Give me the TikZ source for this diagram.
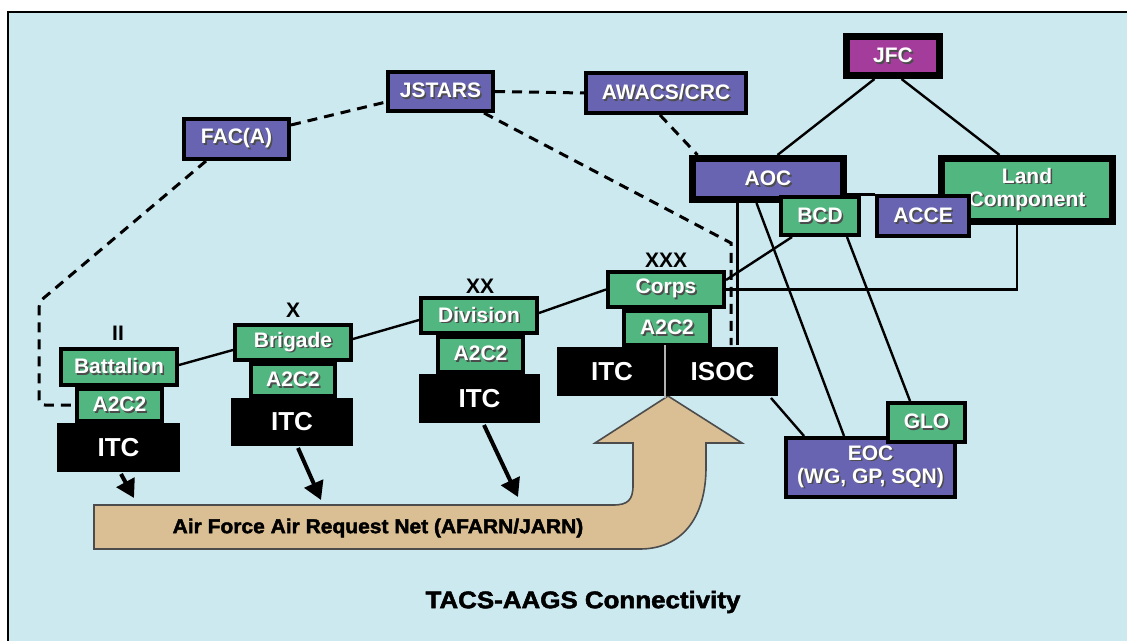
\documentclass[tikz,border=0pt]{standalone}
\usepackage{fontspec}
\setmainfont{Liberation Sans}
\newfontfamily\heavysans[BoldFeatures={FakeBold=2}]{Liberation Sans}
\usetikzlibrary{arrows.meta}
\definecolor{skyback}{RGB}{204,233,240}
\definecolor{cmdpurple}{RGB}{104,100,178}
\definecolor{cmdgreen}{RGB}{82,182,128}
\definecolor{jfcpink}{RGB}{163,60,155}
\definecolor{nettan}{RGB}{218,190,148}
\pgfdeclarelayer{bg}
\pgfdeclarelayer{links}
\pgfsetlayers{bg,links,main}
\newcommand{\shtxt}[1]{\makebox[0pt][l]{\kern0.8pt\raisebox{-0.8pt}{\textcolor{black!70}{#1}}}#1}

\begin{document}
\begin{tikzpicture}[x=0.5pt, y=-0.5pt,
  box/.style={shape=rectangle, draw=black, line width=2pt, inner sep=0pt, text=white, align=center, font=\fontsize{10.5}{11.5}\selectfont\bfseries},
  pbox/.style={box, fill=cmdpurple},
  gbox/.style={box, fill=cmdgreen},
  itcbox/.style={box, fill=black, draw=none, font=\fontsize{13}{15}\selectfont\bfseries},
  echelon/.style={font=\fontsize{10.5}{12}\selectfont\bfseries},
  link/.style={line width=1.2pt, draw=black},
  dlink/.style={line width=1.5pt, draw=black, dash pattern=on 5pt off 3.5pt},
  feed/.style={line width=2pt, -{Triangle[length=9pt, width=10pt]}}]
\useasboundingbox (0,0) rectangle (1127,641);
\begin{pgfonlayer}{bg}
\fill[skyback] (8,12) rectangle (1127,641);
\draw[line width=1.2pt] (8,641) -- (8,12) -- (1127,12);
\end{pgfonlayer}

% air side
\node[box, fill=jfcpink, line width=3.5pt, minimum width=46.5pt, minimum height=19.5pt] (jfc) at (893,56) {\shtxt{JFC}};
\node[pbox, minimum width=80pt, minimum height=20pt] (awacs) at (666,93) {\shtxt{AWACS/CRC}};
\node[pbox, minimum width=52.5pt, minimum height=19.5pt] (jstars) at (440.5,91.5) {\shtxt{JSTARS}};
\node[pbox, minimum width=52.5pt, minimum height=20pt] (faca) at (236.5,139) {\shtxt{FAC(A)}};
\node[pbox, line width=3.5pt, minimum width=75.5pt, minimum height=20.5pt] (aoc) at (768,179) {\shtxt{AOC}};
\node[gbox, line width=3.5pt, minimum width=85.5pt, minimum height=31.5pt] (land) at (1027,190) {\shtxt{Land}\\\shtxt{Component}};
\node[gbox, minimum width=39pt, minimum height=19pt] (bcd) at (820,216) {\shtxt{BCD}};
\node[pbox, minimum width=46pt, minimum height=20pt] (acce) at (923,216.5) {\shtxt{ACCE}};

% corps
\node[echelon] (xxx) at (666,260) {XXX};
\node[gbox, minimum width=58pt, minimum height=17.5pt] (corps) at (666,289.5) {\shtxt{Corps}};
\node[gbox, minimum width=43pt, minimum height=17pt] (a2c2corps) at (667,328) {\shtxt{A2C2}};
\node[itcbox, minimum width=55pt, minimum height=24.5pt] (itccorps) at (612,371.5) {ITC};
\node[itcbox, minimum width=55.5pt, minimum height=24.5pt] (isoc) at (722.5,371.5) {ISOC};
\draw[gray!60, line width=0.6pt] (isoc.north west) -- (isoc.south west);
\node[pbox, minimum width=84.5pt, minimum height=29.5pt] (eoc) at (870.5,467.5) {\shtxt{EOC}\\\shtxt{(WG, GP, SQN)}};
\node[gbox, minimum width=38.5pt, minimum height=19.5pt] (glo) at (926.5,422.5) {\shtxt{GLO}};

% battalion, brigade, division
\node[echelon] (ii) at (118,333) {II};
\node[gbox, minimum width=58pt, minimum height=18pt] (bn) at (119,367) {\shtxt{Battalion}};
\node[gbox, minimum width=42.5pt, minimum height=16pt] (a2c2bn) at (119.5,405) {\shtxt{A2C2}};
\node[itcbox, minimum width=61.5pt, minimum height=24.5pt] (itcbn) at (118.5,447.5) {ITC};
\node[echelon] (x) at (293,310) {X};
\node[gbox, minimum width=58pt, minimum height=17.5pt] (bde) at (293,342.5) {\shtxt{Brigade}};
\node[gbox, minimum width=42pt, minimum height=16pt] (a2c2bde) at (293,380) {\shtxt{A2C2}};
\node[itcbox, minimum width=61pt, minimum height=24pt] (itcbde) at (292,422) {ITC};
\node[echelon] (xx) at (480,286) {XX};
\node[gbox, minimum width=58pt, minimum height=17.5pt] (div) at (479,315.5) {\shtxt{Division}};
\node[gbox, minimum width=42.5pt, minimum height=17.5pt] (a2c2div) at (480.5,354.5) {\shtxt{A2C2}};
\node[itcbox, minimum width=60.5pt, minimum height=24.5pt] (itcdiv) at (479.5,398.5) {ITC};

\coordinate (bendjs) at (731,243);
\coordinate (bendfac) at (39,302);
\coordinate (tipbn) at (134,498);
\coordinate (tipbde) at (321,500);
\coordinate (tipdiv) at (518,497);

\begin{pgfonlayer}{links}
% request net
\draw[fill=nettan, draw=black!70, line width=0.8pt] (94,505) -- (613,505) .. controls (628,505) and (633,500) .. (633,485) -- (633,443) -- (595,443) -- (668,396) -- (742,443) -- (706,443) -- (706,467) .. controls (706,520) and (680,549) .. (640,549) -- (94,549) -- cycle;
\path[link] ([yshift=1pt]bn.east) edge ([yshift=-3.75pt]bde.west);
\path[link] ([yshift=1.75pt]bde.east) edge ([yshift=-2.25pt]div.west);
\path[link] ([yshift=1.25pt]div.east) edge (corps.west);
\path[link] ([yshift=4.75pt]corps.east) edge ([xshift=6.5pt]bcd.south west);
\draw[link] (corps.east) -| ([xshift=-5pt]land.south);
\path[link] ([xshift=15.75pt]jfc.south west) edge ([xshift=44.25pt]aoc.north west);
\path[link] ([xshift=29.25pt]jfc.south west) edge ([xshift=30.75pt]land.north west);
\draw[link] (acce.north west -| aoc.east) -- (acce.north west);
\draw[link] ([xshift=24.25pt]aoc.south west) -- ([xshift=24.25pt]aoc.south west |- isoc.north);
\path[link] ([xshift=33.75pt]aoc.south west) edge ([xshift=30pt]eoc.north west);
\path[link] ([xshift=34pt]bcd.south west) edge ([xshift=12pt]glo.north west);
\path[link] ([xshift=-4.5pt]isoc.south east) edge ([xshift=10pt]eoc.north west);
\path[dlink] (jstars.east) edge (awacs.west);
\path[dlink] ([xshift=38pt]awacs.south west) edge ([xshift=4.25pt]aoc.north west);
\path[dlink] ([yshift=7pt]faca.east) edge ([yshift=-5.25pt]jstars.west);
\draw[dlink] ([xshift=-5.5pt]jstars.south east) -- (bendjs) -- (bendjs |- isoc.north);
\draw[dlink, rounded corners=3pt] ([xshift=12pt]faca.south west) -- (bendfac) -- (bendfac |- a2c2bn.west) -- (a2c2bn.west);
\end{pgfonlayer}

\draw[feed] ([xshift=1.25pt]itcbn.south) -- (tipbn);
\draw[feed] ([xshift=3pt]itcbde.south) -- (tipbde);
\draw[feed] ([xshift=2.25pt]itcdiv.south) -- (tipdiv);

\node[font=\heavysans\fontsize{10}{11}\selectfont\bfseries] (afarn) at (378,528) {\scalebox{1.05}[1]{Air Force Air Request Net (AFARN/JARN)}};
\node[font=\heavysans\fontsize{12}{14}\selectfont\bfseries] (title) at (583,602) {\scalebox{1.08}[1]{TACS-AAGS Connectivity}};
\end{tikzpicture}
\end{document}
